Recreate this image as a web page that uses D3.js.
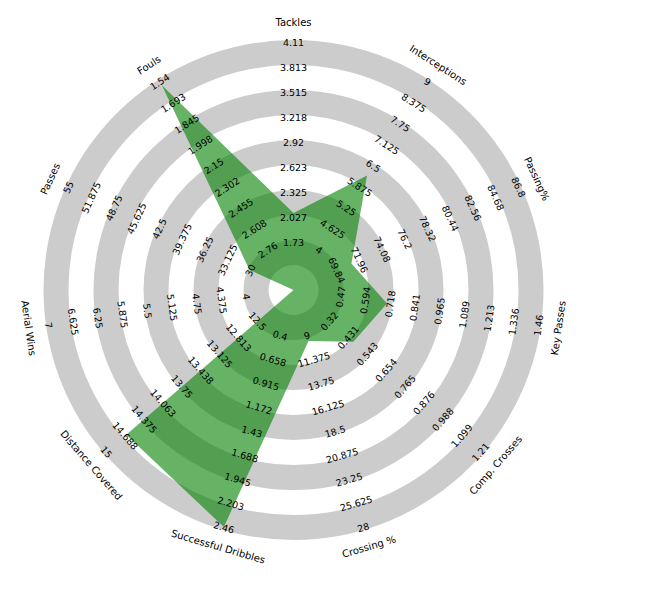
<!DOCTYPE html>
<html>
<head>
<meta charset="utf-8">
<script src="https://cdn.jsdelivr.net/npm/d3@7"></script>
<style>
  html, body { margin: 0; padding: 0; background: #fff; }
  svg { display: block; font-family: "DejaVu Sans", sans-serif; }
</style>
</head>
<body>
<svg id="chart" width="654" height="596"></svg>
<script>
const params = ["Tackles", "Interceptions", "Passing%", "Key Passes", "Comp. Crosses",
  "Crossing %", "Successful Dribbles", "Distance Covered", "Aerial Wins", "Passes", "Fouls"];
const lowRange  = [1.73, 4, 69.84, 0.47, 0.32, 9, 0.4, 12.5, 4, 30, 2.76];
const highRange = [4.11, 9, 86.8, 1.46, 1.21, 28, 2.46, 15, 7, 55, 1.54];
const values    = [2.05, 6.15, 71.0, 0.69, 0.45, 9.3, 2.43, 14.64, 3.25, 29.8, 1.58];

const tickTackles   = ["1.73", "2.027", "2.325", "2.623", "2.92", "3.218", "3.515", "3.813", "4.11"];
const tickIntercept = ["4", "4.625", "5.25", "5.875", "6.5", "7.125", "7.75", "8.375", "9"];
const tickPassPct   = ["69.84", "71.96", "74.08", "76.2", "78.32", "80.44", "82.56", "84.68", "86.8"];
const tickKeyPass   = ["0.47", "0.594", "0.718", "0.841", "0.965", "1.089", "1.213", "1.336", "1.46"];
const tickCompCross = ["0.32", "0.431", "0.543", "0.654", "0.765", "0.876", "0.988", "1.099", "1.21"];
const tickCrossPct  = ["9", "11.375", "13.75", "16.125", "18.5", "20.875", "23.25", "25.625", "28"];
const tickDribbles  = ["0.4", "0.658", "0.915", "1.172", "1.43", "1.688", "1.945", "2.203", "2.46"];
const tickDistance  = ["12.5", "12.813", "13.125", "13.438", "13.75", "14.063", "14.375", "14.688", "15"];
const tickAerial    = ["4", "4.375", "4.75", "5.125", "5.5", "5.875", "6.25", "6.625", "7"];
const tickPasses    = ["30", "33.125", "36.25", "39.375", "42.5", "45.625", "48.75", "51.875", "55"];
const tickFouls     = ["2.76", "2.608", "2.455", "2.302", "2.15", "1.998", "1.845", "1.693", "1.54"];
const tickLabels = [tickTackles, tickIntercept, tickPassPct, tickKeyPass, tickCompCross,
  tickCrossPct, tickDribbles, tickDistance, tickAerial, tickPasses, tickFouls];

const cx = 293.5, cy = 290;
const unit = 25;              // ring width in px
const innerR = 2 * unit;      // radius of the minimum value
const outerR = 10 * unit;     // radius of the maximum value

const svg = d3.select("#chart");
const g = svg.append("g").attr("transform", `translate(${cx},${cy})`);

// angle scale
const angle = d3.scaleLinear().domain([0, params.length]).range([0, 2 * Math.PI]);
// per-parameter radial scales
const rScales = params.map((p, i) =>
  d3.scaleLinear().domain([lowRange[i], highRange[i]]).range([innerR, outerR]));

// rings (grey bands)
const ringBands = d3.range(1, 10, 2).map(k => [k * unit, (k + 1) * unit]);
const arc = d3.arc().startAngle(0).endAngle(2 * Math.PI);
g.selectAll("path.ring").data(ringBands).enter().append("path")
  .attr("class", "ring")
  .attr("d", d => arc({ innerRadius: d[0], outerRadius: d[1] }))
  .attr("fill", "#cccccc");

// radar polygon
const pt = (i, r) => [r * Math.sin(angle(i)), -r * Math.cos(angle(i))];
const polyPts = values.map((v, i) => pt(i, Math.max(0, rScales[i](v))));
g.append("path")
  .attr("d", d3.line()(polyPts) + "Z")
  .attr("fill", "green")
  .attr("fill-opacity", 0.6)
  .attr("stroke", "none");

function rotFor(i) {
  const deg = angle(i) * 180 / Math.PI;
  if (deg > 90 && deg < 270) return deg - 180;
  if (deg >= 270) return deg - 360;
  return deg;
}

// tick labels
params.forEach((p, i) => {
  const rot = rotFor(i);
  tickLabels[i].forEach(t => {
    const r = rScales[i](+t) - 2.5;
    const [x, y] = pt(i, r);
    g.append("text")
      .attr("transform", `translate(${x},${y}) rotate(${rot})`)
      .attr("text-anchor", "middle")
      .attr("dominant-baseline", "central")
      .attr("font-size", "9.5px")
      .attr("fill", "#000")
      .text(t);
  });
});

// parameter labels
params.forEach((p, i) => {
  const rot = rotFor(i);
  const [x, y] = pt(i, 267.5);
  g.append("text")
    .attr("transform", `translate(${x},${y}) rotate(${rot})`)
    .attr("text-anchor", "middle")
    .attr("dominant-baseline", "central")
    .attr("font-size", "10px")
    .attr("fill", "#000")
    .text(p);
});
</script>
</body>
</html>
